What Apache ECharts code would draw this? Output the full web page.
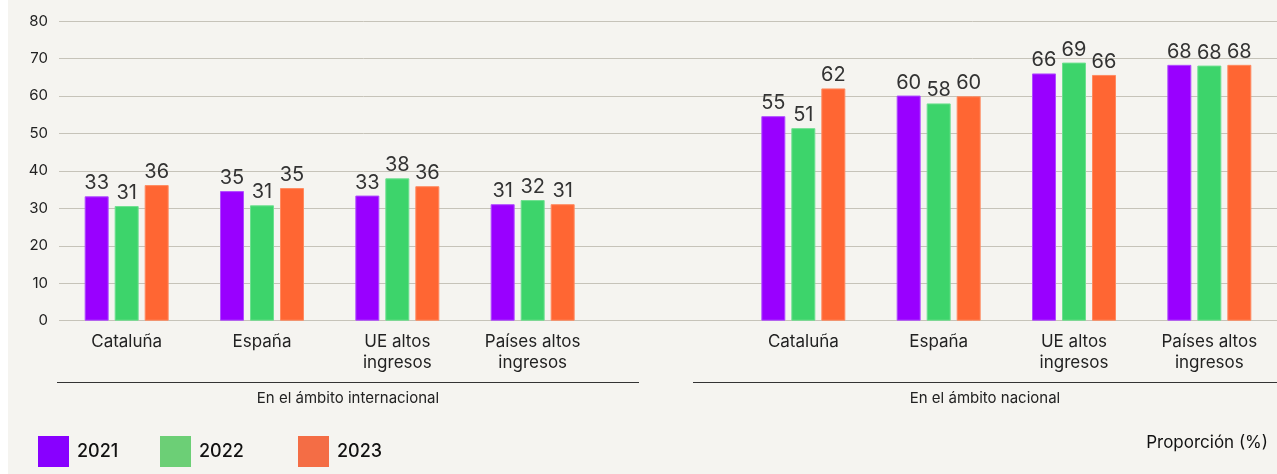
<!DOCTYPE html>
<html><head><meta charset="utf-8">
<script src="https://cdn.jsdelivr.net/npm/echarts@6/dist/echarts.min.js"></script>
<style>
html,body{margin:0;padding:0;background:#ffffff;}
#c{position:absolute;left:8px;top:0;width:1269px;height:474px;background:#f5f4f0;}
</style>
</head><body><div id="c"></div>
<script>
// ---- data ----
const categories = ['Cataluña','España','UE altos\ningresos','Países altos\ningresos','','Cataluña','España','UE altos\ningresos','Países altos\ningresos'];
const groupLabels = ['En el ámbito internacional','En el ámbito nacional'];
const seriesNames = ['2021','2022','2023'];
const values2021 = [33.2, 34.6, 33.4, 31.1, '-', 54.6, 60.1, 66.0, 68.3];
const values2022 = [30.6, 30.8, 38.0, 32.2, '-', 51.4, 58.0, 68.9, 68.1];
const values2023 = [36.2, 35.4, 35.9, 31.1, '-', 62.0, 59.9, 65.6, 68.3];
const yMin = 0, yMax = 80, yInterval = 10;
const unitLabel = 'Proporción (%)';

// ---- styles ----
const barColors = ['#9900ff', '#3dd46b', '#ff6633'];
const barBorders = ['#b04dff', '#6ee08f', '#ff8a60'];
const legendColors = ['#8800ff', '#6ccf76', '#f46d45'];
const FONT = 'Inter, "Noto Sans", sans-serif';

const chart = echarts.init(document.getElementById('c'), null, {renderer: 'canvas'});
const allValues = [values2021, values2022, values2023];

const series = seriesNames.map((name, i) => ({
  name: name,
  type: 'bar',
  data: allValues[i],
  barWidth: 24,
  barGap: '25%',
  itemStyle: {color: barColors[i], borderColor: barBorders[i], borderWidth: 1},
  label: {
    show: true, position: 'top', distance: 3,
    color: '#333', fontFamily: FONT, fontSize: 20,
    formatter: p => Math.round(p.value)
  }
}));

const legendLefts = [30, 152, 290];
const legends = seriesNames.map((name, i) => ({
  data: [{name: name, itemStyle: {color: legendColors[i], borderWidth: 0}}],
  left: legendLefts[i], top: 436, padding: 0,
  itemWidth: 31, itemHeight: 31, icon: 'rect',
  selectedMode: false,
  textStyle: {fontFamily: FONT, fontSize: 18, fontWeight: 500, color: '#111', padding: [0,0,0,3]}
}));

chart.setOption({
  animation: false,
  backgroundColor: '#f5f4f0',
  grid: {left: 51, right: 0, top: 21, bottom: 153.3, containLabel: false},
  legend: legends,
  xAxis: {
    type: 'category', data: categories,
    axisLine: {show: false}, axisTick: {show: false},
    axisLabel: {fontFamily: FONT, fontSize: 17, color: '#222', lineHeight: 20.5, margin: 11, interval: 0}
  },
  yAxis: {
    type: 'value', min: yMin, max: yMax, interval: yInterval,
    axisLine: {show: false}, axisTick: {show: false},
    axisLabel: {fontFamily: FONT, fontSize: 15, color: '#222', margin: 11},
    splitLine: {lineStyle: {color: '#c6c3b9', width: 1}}
  },
  series: series,
  graphic: [
    {type: 'line', shape: {x1: 49, y1: 382.5, x2: 631, y2: 382.5}, style: {stroke: '#333', lineWidth: 1}},
    {type: 'line', shape: {x1: 685, y1: 382.5, x2: 1269, y2: 382.5}, style: {stroke: '#333', lineWidth: 1}},
    {type: 'text', x: 340, y: 398, style: {text: groupLabels[0], fontFamily: FONT, fontSize: 15, fill: '#222', textAlign: 'center', textVerticalAlign: 'middle'}},
    {type: 'text', x: 977, y: 398, style: {text: groupLabels[1], fontFamily: FONT, fontSize: 15, fill: '#222', textAlign: 'center', textVerticalAlign: 'middle'}},
    {type: 'text', x: 1260, y: 443, style: {text: unitLabel, fontFamily: FONT, fontSize: 17, fill: '#111', textAlign: 'right', textVerticalAlign: 'middle'}}
  ]
});
</script>
</body></html>
